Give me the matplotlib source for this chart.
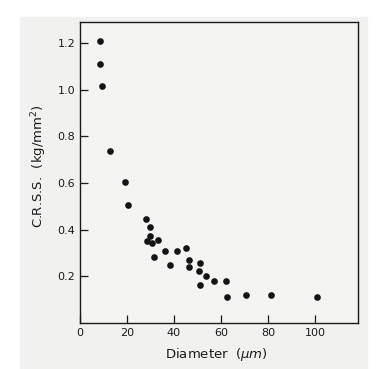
import matplotlib
matplotlib.use("Agg")
import matplotlib.pyplot as plt
from matplotlib.patches import Rectangle

# grain diameter (um) vs critical resolved shear stress (kg/mm^2)
diameter = [8.4, 8.5, 9.4, 12.6, 19.3, 20.3, 28.2, 29.9, 29.7, 28.5, 30.8,
            33.0, 31.6, 36.2, 38.4, 41.3, 45.2, 46.5, 46.4, 50.9, 50.6,
            53.8, 56.9, 51.2, 62.3, 62.4, 70.6, 81.4, 100.7]
crss = [1.21, 1.11, 1.015, 0.737, 0.603, 0.506, 0.448, 0.411, 0.372, 0.353,
        0.345, 0.356, 0.281, 0.307, 0.250, 0.309, 0.320, 0.271, 0.241, 0.257,
        0.224, 0.200, 0.181, 0.163, 0.181, 0.113, 0.118, 0.120, 0.112]

xticks = [0, 20, 40, 60, 80, 100]
yticks = [0.2, 0.4, 0.6, 0.8, 1.0, 1.2]

fig = plt.figure(figsize=(3.86, 3.69), dpi=100, facecolor="white")
# scanned page background
fig.add_artist(Rectangle((20 / 386, 0), 347 / 386, 1 - 17 / 369,
                         transform=fig.transFigure, color="#f1f1f0",
                         zorder=-5))
ax = fig.add_axes([80 / 386, 1 - 323 / 369, 278 / 386, 301 / 369])
ax.set_zorder(2)
ax.set_facecolor("#f4f4f3")

ax.plot(diameter, crss, "o", color="#141414", markersize=4.8,
        markeredgewidth=0)

ax.set_xlim(0, 118.3)
ax.set_ylim(0, 1.291)
ax.set_xticks(xticks)
ax.set_yticks(yticks)
ax.set_yticklabels(["0.2", "0.4", "0.6", "0.8", "1.0", "1.2"])
ax.tick_params(direction="in", length=5.5, width=0.9, labelsize=8,
               color="#1a1a1a", labelcolor="#1a1a1a", pad=3.5)
for s in ax.spines.values():
    s.set_linewidth(1.0)
    s.set_color("#1a1a1a")

ax.set_xlabel("Diameter  ($\\mu m$)", fontsize=9.5, color="#1a1a1a")
ax.set_ylabel("C.R.S.S.  (kg/mm$^2$)", fontsize=9.5, color="#1a1a1a")
ax.xaxis.set_label_coords(0.49, -0.078)
ax.yaxis.set_label_coords(-0.11, 0.52)

fig.savefig("out.png", dpi=100)
